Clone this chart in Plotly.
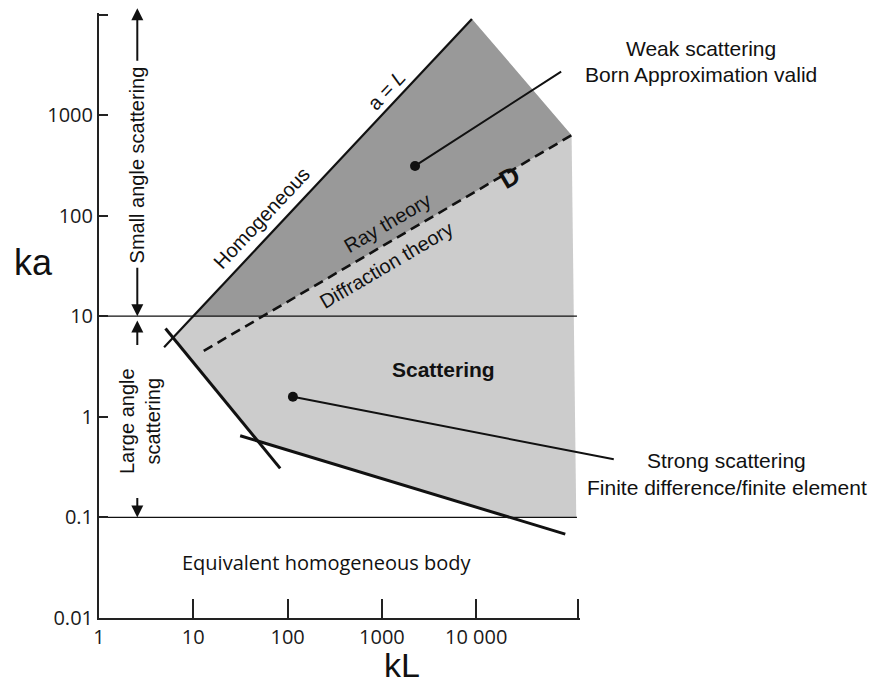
import numpy as np
import plotly.graph_objects as go

# ---- axis extents and ticks ----
KL_RANGE = [1.0, 1.26e5]
KA_RANGE = [0.01, 1.03e4]
x_tick_vals = [1, 10, 100, 1000, 10000, 1.2e5]
x_tick_text = ["1", "10", "100", "1000", "10 000", ""]
y_tick_vals = [0.01, 0.1, 1, 10, 100, 1000, 9.8e3]
y_tick_text = ["0.01", "0.1", "1", "10", "100", "1000", ""]

# ---- regime boundaries, as (kL, ka) ----
a_eq_L_kl = [4.9, 9000.0]            # a = L  ->  ka = kL
left_kl = [5.07, 83.4]                # lower-left limit of scattering
left_ka = [7.55, 0.307]
lower_kl = [31.4, 87900.0]            # lower limit of scattering
lower_ka = [0.648, 0.0682]
d_kl = [12.9, 1.026e5]                # D: ray / diffraction divide
d_ka = [4.52, 628.0]
edge_kl = [1.026e5, 1.15e5]           # right-hand edge of the shaded area
edge_ka = [628.0, 0.1]
limit_ka = [10.0, 0.1]                # small / large angle and homogeneous limits
limit_kl = [1.0, 1.17e5]

# ---- marked points and the ends of their leaders ----
weak_pt = [2245.0, 311.0]
weak_tail = [80500.0, 2718.0]
strong_pt = [113.8, 1.58]
strong_tail = [2.91e5, 0.377]

DARK = "#999999"
LIGHT = "#cccccc"
INK = "#111111"
SANS = "Liberation Sans, Arial, sans-serif"
TICKFONT = "Open Sans, sans-serif"


def loglog_intersect(p, q):
    """Intersection of two straight lines in log-log space; p, q = ((x0,y0),(x1,y1))."""
    (x1, y1), (x2, y2) = [(np.log10(a), np.log10(b)) for a, b in p]
    (x3, y3), (x4, y4) = [(np.log10(a), np.log10(b)) for a, b in q]
    den = (x1 - x2) * (y3 - y4) - (y1 - y2) * (x3 - x4)
    px = ((x1 * y2 - y1 * x2) * (x3 - x4) - (x1 - x2) * (x3 * y4 - y3 * x4)) / den
    py = ((x1 * y2 - y1 * x2) * (y3 - y4) - (y1 - y2) * (x3 * y4 - y3 * x4)) / den
    return 10 ** px, 10 ** py


aL = ((a_eq_L_kl[0], a_eq_L_kl[0]), (a_eq_L_kl[1], a_eq_L_kl[1]))
left = ((left_kl[0], left_ka[0]), (left_kl[1], left_ka[1]))
lower = ((lower_kl[0], lower_ka[0]), (lower_kl[1], lower_ka[1]))
dline = ((d_kl[0], d_ka[0]), (d_kl[1], d_ka[1]))
h10 = ((limit_kl[0], limit_ka[0]), (limit_kl[1], limit_ka[0]))
h01 = ((limit_kl[0], limit_ka[1]), (limit_kl[1], limit_ka[1]))

X1 = loglog_intersect(aL, left)
X2 = loglog_intersect(left, lower)
F = loglog_intersect(lower, h01)
A = loglog_intersect(aL, h10)
Dx = loglog_intersect(dline, h10)
B = aL[1]
C = (edge_kl[0], edge_ka[0])
E = (edge_kl[1], edge_ka[1])

light_poly = [X1, B, C, E, F, X2, X1]
dark_poly = [A, B, C, Dx, A]

fig = go.Figure()


def poly(points, color):
    fig.add_trace(go.Scatter(
        x=[p[0] for p in points], y=[p[1] for p in points],
        mode="lines", fill="toself", fillcolor=color,
        line=dict(width=0, color=color), hoverinfo="skip", showlegend=False))


def line(xs, ys, width, dash=None):
    fig.add_trace(go.Scatter(
        x=xs, y=ys, mode="lines",
        line=dict(color=INK, width=width, dash=dash),
        hoverinfo="skip", showlegend=False))


poly(light_poly, LIGHT)
poly(dark_poly, DARK)

for ka in limit_ka:
    line(limit_kl, [ka, ka], 1.4)

line(a_eq_L_kl, a_eq_L_kl, 2.2)
line(left_kl, left_ka, 3)
line(lower_kl, lower_ka, 3)
line(d_kl, d_ka, 2.6, dash="10px,6px")

fig.add_trace(go.Scatter(
    x=[weak_pt[0], strong_pt[0]], y=[weak_pt[1], strong_pt[1]],
    mode="markers", marker=dict(size=10, color=INK),
    hoverinfo="skip", showlegend=False, cliponaxis=False))

ann = []


def text(t, x, y, size=21, angle=0, xref="x", yref="y", family=SANS, bold=False):
    if bold:
        t = "<b>" + t + "</b>"
    ann.append(dict(text=t, x=x, y=y, xref=xref, yref=yref, showarrow=False,
                    textangle=angle, xanchor="center", yanchor="middle",
                    font=dict(family=family, size=size, color=INK)))


def leader(pt, tail):
    ann.append(dict(text="", x=np.log10(pt[0]), y=np.log10(pt[1]),
                    ax=np.log10(tail[0]), ay=np.log10(tail[1]),
                    axref="x", ayref="y", xref="x", yref="y",
                    showarrow=True, arrowhead=0, arrowwidth=2, arrowcolor=INK,
                    font=dict(size=1), borderpad=0))


def arrow(x, y, dy, yref="y"):
    ann.append(dict(text="", x=x, y=y, xref="x", yref=yref, ax=0, ay=dy,
                    showarrow=True, arrowhead=2, arrowsize=1.2, arrowwidth=2,
                    arrowcolor=INK, font=dict(size=1), borderpad=0))


leader(weak_pt, weak_tail)
leader(strong_pt, strong_tail)

# regime arrows along the left side
arrow(0.4061, 1.008, 53, yref="paper")
arrow(0.4061, 1.0, -49)
arrow(0.4061, 0.956, 25)
arrow(0.4061, -1.0, -20)

text("Small angle scattering", 0.4061, 2.5007, size=20, angle=-90)
text("Large angle<br>scattering", 0.4347, -0.0427, size=20, angle=-90)

text("a = <i>L</i>", 3.0506, 3.246, size=20, angle=-46.9)
text("Homogeneous", 1.7252, 1.9716, size=20, angle=-46.9)
text("Ray theory", 3.057, 1.9275, size=20, angle=-30.4)
text("Diffraction theory", 3.0506, 1.5072, size=20, angle=-30.4)
text("D", 4.358, 2.3845, size=26, angle=-30.4, bold=True)
text("Scattering", 3.658, 0.472, size=21, bold=True)
text("Equivalent homogeneous body", 2.4144, -1.4476, size=20, family=TICKFONT)

text("Weak scattering", 1.2507, 3.658, xref="paper")
text("Born Approximation valid", 1.2512, 3.403, xref="paper")
text("Strong scattering", 1.3056, -0.438, xref="paper")
text("Finite difference/finite element", 1.3052, -0.7034, xref="paper")

text("ka", -0.1372, 1.537, size=36, xref="paper")
text("kL", 3.2096, -0.0777, size=34, yref="paper")

axis_common = dict(
    type="log", showgrid=False, zeroline=False, showline=True,
    linecolor="#222222", linewidth=2, ticks="inside", tickcolor="#222222",
    tickwidth=2, tickmode="array", automargin=False,
    tickfont=dict(family=TICKFONT, size=20, color="#1a1a1a"),
)

fig.update_layout(
    width=873, height=686,
    margin=dict(l=99, r=293, t=13, b=68),
    paper_bgcolor="white", plot_bgcolor="white",
    xaxis=dict(axis_common, range=[np.log10(KL_RANGE[0]), np.log10(KL_RANGE[1])],
               tickvals=x_tick_vals, ticktext=x_tick_text, ticklen=19),
    yaxis=dict(axis_common, range=[np.log10(KA_RANGE[0]), np.log10(KA_RANGE[1])],
               tickvals=y_tick_vals, ticktext=y_tick_text, ticklen=9),
    annotations=ann,
    showlegend=False,
)

fig.write_html("out.html")
